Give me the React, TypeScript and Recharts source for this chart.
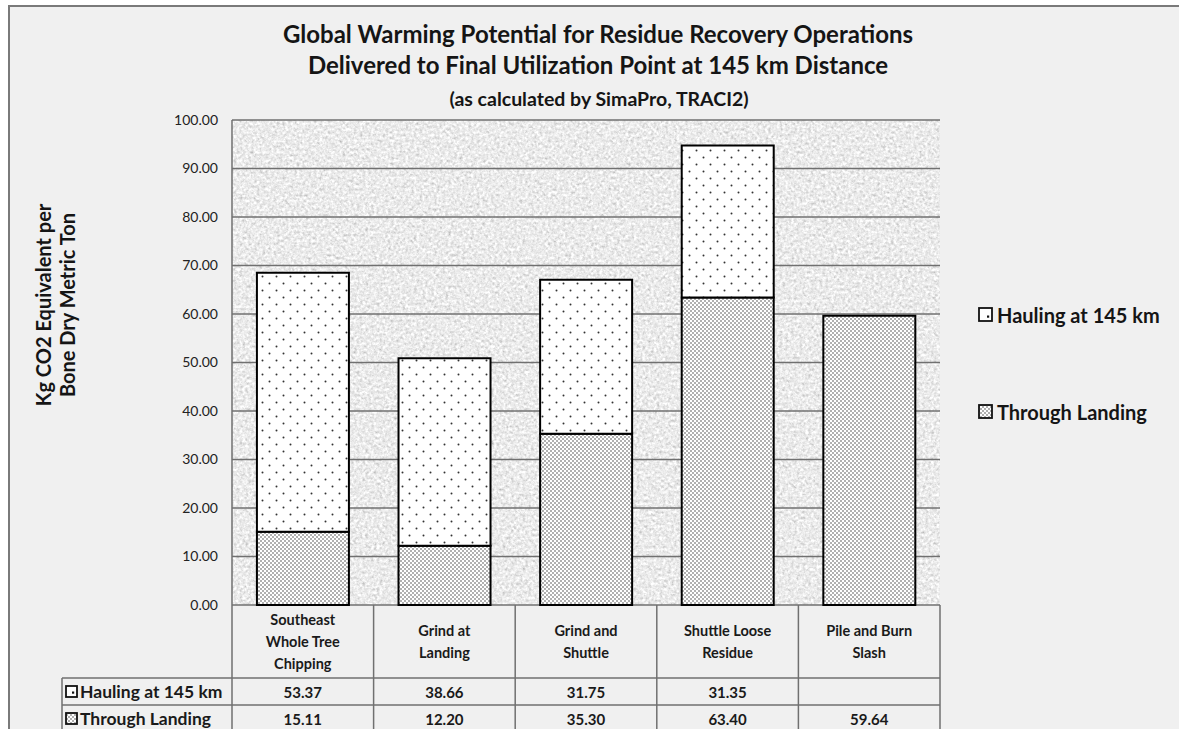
import React from "react";
import { BarChart, Bar, XAxis, YAxis, CartesianGrid } from "recharts";

// categories (as they wrap in the table header)
const categoryLines = [
  ["Southeast", "Whole Tree", "Chipping"],
  ["Grind at", "Landing"],
  ["Grind and", "Shuttle"],
  ["Shuttle Loose", "Residue"],
  ["Pile and Burn", "Slash"],
];

// series values, kg CO2 eq per bone dry metric ton
const haulingValues: (number | null)[] = [53.37, 38.66, 31.75, 31.35, null];
const landingValues = [15.11, 12.2, 35.3, 63.4, 59.64];

const seriesNames = ["Hauling at 145 km", "Through Landing"];
const yTicks = [0, 10, 20, 30, 40, 50, 60, 70, 80, 90, 100];

const data = categoryLines.map((lines, i) => ({
  name: lines.join(" "),
  landing: landingValues[i],
  hauling: haulingValues[i],
}));

const FONT = "Lato, 'Open Sans', sans-serif";
const W = 1179;
const H = 729;

// plot box + table rows
const PLOT_LEFT = 232;
const PLOT_RIGHT = 940;
const PLOT_TOP = 120;
const PLOT_BOTTOM = 605;
const HEAD_BOTTOM = 678;
const ROW1_BOTTOM = 705;
const ROW2_BOTTOM = 732;
const ROWHEAD_LEFT = 62;
const BAND = (PLOT_RIGHT - PLOT_LEFT) / categoryLines.length;
const LINE = "#707070";

const fmt = (v: number | null) => (v == null ? "" : v.toFixed(2));

const HaulIcon = ({ x, y, s }: { x: number; y: number; s: number }) => (
  <g>
    <rect x={x} y={y} width={s} height={s} fill="#fff" stroke="#111" strokeWidth={1.8} />
    <rect x={x + s - 5} y={y + s - 5.5} width={2.2} height={2.2} fill="#111" />
  </g>
);

const LandIcon = ({ x, y, s }: { x: number; y: number; s: number }) => (
  <rect x={x} y={y} width={s} height={s} fill="url(#denseDots)" stroke="#111" strokeWidth={1.8} />
);

// x axis ticks render the data table under each category
const TableTick = (props: any) => {
  const { x, payload } = props;
  const i = payload.index;
  const left = x - BAND / 2;
  const right = x + BAND / 2;
  const lines = categoryLines[i];
  const headMid = (PLOT_BOTTOM + HEAD_BOTTOM) / 2;
  const lh = 22;
  const y0 = headMid - ((lines.length - 1) * lh) / 2;
  const txt = { fontFamily: FONT, fontWeight: 700, fill: "#1a1a1a", textAnchor: "middle" as const, dominantBaseline: "central" as const };
  return (
    <g>
      <line x1={right} y1={PLOT_BOTTOM} x2={right} y2={ROW2_BOTTOM} stroke={LINE} strokeWidth={1.5} />
      {i === 0 && <line x1={left} y1={PLOT_BOTTOM} x2={left} y2={ROW2_BOTTOM} stroke={LINE} strokeWidth={1.5} />}
      {[HEAD_BOTTOM, ROW1_BOTTOM, ROW2_BOTTOM].map((yy) => (
        <line key={yy} x1={left} y1={yy} x2={right} y2={yy} stroke={LINE} strokeWidth={1.5} />
      ))}
      {lines.map((t, k) => (
        <text key={k} x={x} y={y0 + k * lh} fontSize={14.5} {...txt}>
          {t}
        </text>
      ))}
      <text x={x} y={(HEAD_BOTTOM + ROW1_BOTTOM) / 2} fontSize={15} {...txt}>
        {fmt(haulingValues[i])}
      </text>
      <text x={x} y={(ROW1_BOTTOM + ROW2_BOTTOM) / 2} fontSize={15} {...txt}>
        {fmt(landingValues[i])}
      </text>
      {i === 0 && (
        <g>
          {[HEAD_BOTTOM, ROW1_BOTTOM, ROW2_BOTTOM].map((yy) => (
            <line key={yy} x1={ROWHEAD_LEFT} y1={yy} x2={left} y2={yy} stroke={LINE} strokeWidth={1.5} />
          ))}
          <line x1={ROWHEAD_LEFT} y1={HEAD_BOTTOM} x2={ROWHEAD_LEFT} y2={ROW2_BOTTOM} stroke={LINE} strokeWidth={1.5} />
          <HaulIcon x={66} y={(HEAD_BOTTOM + ROW1_BOTTOM) / 2 - 5.5} s={11} />
          <text x={80} y={(HEAD_BOTTOM + ROW1_BOTTOM) / 2} fontSize={17.5} {...txt} textAnchor="start">
            {seriesNames[0]}
          </text>
          <LandIcon x={66} y={(ROW1_BOTTOM + ROW2_BOTTOM) / 2 - 5.5} s={11} />
          <text x={80} y={(ROW1_BOTTOM + ROW2_BOTTOM) / 2} fontSize={17.5} {...txt} textAnchor="start">
            {seriesNames[1]}
          </text>
        </g>
      )}
    </g>
  );
};

const App: React.FC = () => {
  return (
    <div style={{ position: "absolute", left: 0, top: 0, width: W, height: H, background: "#fff", overflow: "hidden" }}>
      <style>{"html,body{margin:0;overflow:hidden}"}</style>
      {/* outer frame, right and bottom edges run off the picture */}
      <div
        style={{
          position: "absolute",
          left: 8,
          top: 5,
          width: 1400,
          height: 900,
          border: "2px solid #7a7a7a",
          background: "#f0f0f0",
        }}
      />

      <svg width={0} height={0} style={{ position: "absolute" }}>
        <defs>
          <filter id="graniteNoise" x="0" y="0" width="100%" height="100%">
            <feTurbulence type="fractalNoise" baseFrequency="0.35" numOctaves={4} seed={4} />
            <feColorMatrix
              type="matrix"
              values="0.38 0.38 0.38 0 0.26  0.38 0.38 0.38 0 0.26  0.38 0.38 0.38 0 0.26  0 0 0 0 1"
            />
          </filter>
          <pattern id="granite" patternUnits="userSpaceOnUse" x={0} y={0} width={W} height={H}>
            <rect width={W} height={H} filter="url(#graniteNoise)" />
          </pattern>
          <pattern id="sparseDots" patternUnits="userSpaceOnUse" width={14} height={14}>
            <rect width={14} height={14} fill="#fff" />
            <circle cx={3.5} cy={3.5} r={1} fill="#333" />
            <circle cx={10.5} cy={10.5} r={1} fill="#333" />
          </pattern>
          <pattern id="denseDots" patternUnits="userSpaceOnUse" width={4} height={4}>
            <rect width={4} height={4} fill="#fff" />
            <circle cx={1} cy={1} r={0.75} fill="#3a3a3a" />
            <circle cx={3} cy={3} r={0.75} fill="#3a3a3a" />
          </pattern>
        </defs>
      </svg>

      <div style={{ position: "absolute", left: 0, top: 0 }}>
        <BarChart
          width={W}
          height={H}
          data={data}
          margin={{ top: PLOT_TOP, right: W - PLOT_RIGHT, bottom: 0, left: PLOT_LEFT - 60 }}
          barCategoryGap="17.6%"
        >
          <CartesianGrid vertical={false} stroke={LINE} strokeWidth={1.5} fill="url(#granite)" fillOpacity={1} />
          <XAxis
            dataKey="name"
            height={H - PLOT_BOTTOM}
            axisLine={false}
            tickLine={false}
            interval={0}
            tick={(p: any) => <TableTick {...p} />}
          />
          <YAxis
            width={60}
            domain={[0, 100]}
            ticks={yTicks}
            tickFormatter={(v: number) => v.toFixed(2)}
            axisLine={{ stroke: LINE, strokeWidth: 1.5 }}
            tickLine={false}
            tickMargin={8}
            tick={{ fontFamily: FONT, fontSize: 14, fill: "#222" }}
          />
          <Bar dataKey="landing" stackId="s" fill="url(#denseDots)" stroke="#000" strokeWidth={2} isAnimationActive={false} />
          <Bar dataKey="hauling" stackId="s" fill="url(#sparseDots)" stroke="#000" strokeWidth={2} isAnimationActive={false} />
        </BarChart>
      </div>

      {/* titles, axis title, legend */}
      <svg width={W} height={H} style={{ position: "absolute", left: 0, top: 0, pointerEvents: "none" }}>
        <g fontFamily={FONT} fontWeight={700} fill="#151515">
          <text x={598} y={43} fontSize={24} textAnchor="middle">
            Global Warming Potential for Residue Recovery Operations
          </text>
          <text x={598} y={74} fontSize={24} textAnchor="middle">
            Delivered to Final Utilization Point at 145 km Distance
          </text>
          <text x={599} y={106} fontSize={19.5} textAnchor="middle">
            (as calculated by SimaPro, TRACI2)
          </text>
          <text x={51} y={305} fontSize={20} textAnchor="middle" transform="rotate(-90 51 305)">
            Kg CO2 Equivalent per
          </text>
          <text x={75} y={305} fontSize={20} textAnchor="middle" transform="rotate(-90 75 305)">
            Bone Dry Metric Ton
          </text>
          <HaulIcon x={979} y={308} s={13} />
          <text x={997} y={315} fontSize={20} dominantBaseline="central">
            {seriesNames[0]}
          </text>
          <LandIcon x={979} y={405} s={13} />
          <text x={997} y={412} fontSize={20} dominantBaseline="central">
            {seriesNames[1]}
          </text>
        </g>
      </svg>
    </div>
  );
};

export default App;
